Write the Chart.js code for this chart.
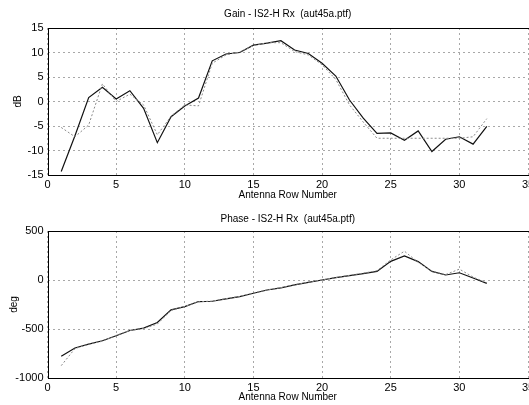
<!DOCTYPE html>
<html>
<head>
<meta charset="utf-8">
<script src="https://cdn.jsdelivr.net/npm/chart.js@4.4.1/dist/chart.umd.min.js"></script>
<style>
  html, body { margin: 0; padding: 0; background: #fff; overflow: hidden; width: 529px; height: 405px; }
  .box { position: absolute; left: 0; width: 545px; }
  #gainBox { top: 0; height: 205px; }
  #phaseBox { top: 200px; height: 207px; }
</style>
</head>
<body>
<div class="box" id="gainBox"><canvas id="gainChart"></canvas></div>
<div class="box" id="phaseBox"><canvas id="phaseChart"></canvas></div>
<script>
// data
const rows = [1, 2, 3, 4, 5, 6, 7, 8, 9, 10, 11, 12, 13, 14, 15, 16,
              17, 18, 19, 20, 21, 22, 23, 24, 25, 26, 27, 28, 29, 30, 31, 32];
const gainMeas = [-14.3, -7.0, 0.8, 2.9, 0.5, 2.2, -1.4, -8.4, -3.1, -0.9, 0.7, 8.3, 9.7, 10.0, 11.5, 11.9,
                  12.4, 10.5, 9.8, 7.8, 5.2, 0.3, -3.4, -6.5, -6.4, -7.9, -6.0, -10.2, -7.7, -7.2, -8.7, -5.1];
const gainRef = [-5.3, -7.2, -4.8, 3.6, 0.0, 1.5, -0.7, -6.8, -3.0, -0.7, -0.9, 7.8, 9.5, 10.1, 11.4, 12.0,
                 12.0, 10.2, 9.5, 7.5, 4.5, -0.7, -4.2, -7.5, -7.5, -7.5, -7.5, -7.5, -7.5, -7.5, -7.2, -3.5];
const phaseMeas = [-779, -694, -654, -620, -569, -515, -491, -433, -305, -271, -220, -217, -193, -169, -135, -102,
                   -80, -50, -25, 0, 25, 45, 65, 88, 190, 245, 188, 88, 51, 74, 20, -34];
const phaseRef = [-874, -700, -655, -625, -565, -515, -495, -450, -310, -270, -222, -215, -190, -168, -132, -100,
                  -78, -48, -22, 2, 25, 48, 70, 95, 205, 294, 180, 90, 55, 111, 30, -30];
const xTicks = [0, 5, 10, 15, 20, 25, 30, 35];
const gainTicks = [-15, -10, -5, 0, 5, 10, 15];
const phaseTicks = [-1000, -500, 0, 500];

const font = 'Liberation Sans, Arial, sans-serif';

// box around the plot area, like matlab
const frame = {
    id: 'frame',
    afterDatasetsDraw(chart) {
        const a = chart.chartArea;
        const ctx = chart.ctx;
        ctx.save();
        ctx.strokeStyle = '#000';
        ctx.lineWidth = 1;
        ctx.strokeRect(Math.round(a.left) + 0.5, Math.round(a.top) + 0.5,
                       Math.round(a.right - a.left), Math.round(a.bottom - a.top));
        ctx.restore();
    }
};

function pts(ys) {
    return rows.map((r, i) => ({ x: r, y: ys[i] }));
}

function makePlot(id, title, yLabel, meas, ref, yTicks, opt) {
    new Chart(document.getElementById(id), {
        type: 'scatter',
        data: {
            datasets: [
                { data: pts(ref), showLine: true, borderColor: '#8a8a8a', borderWidth: 1,
                  borderDash: [2, 2], pointRadius: 0, tension: 0 },
                { data: pts(meas), showLine: true, borderColor: '#111', borderWidth: 1.2,
                  pointRadius: 0, tension: 0 }
            ]
        },
        options: {
            animation: false,
            responsive: true,
            maintainAspectRatio: false,
            layout: { padding: { left: opt.padLeft, right: 17, top: 0, bottom: 0 } },
            scales: {
                x: {
                    type: 'linear',
                    min: xTicks[0], max: xTicks[xTicks.length - 1],
                    afterBuildTicks: s => { s.ticks = xTicks.map(v => ({ value: v })); },
                    afterFit: s => { s.height = opt.xHeight; s.paddingLeft = 0; s.paddingRight = 0; },
                    grid: { color: '#a8a8a8', drawTicks: false, lineWidth: 1 },
                    border: { display: false, dash: [2, 3] },
                    ticks: { color: '#000', padding: 3, font: { family: font, size: 11 },
                             callback: v => String(v) },
                    title: { display: true, text: 'Antenna Row Number', color: '#000',
                             font: { family: font, size: 10 }, padding: { top: 2, bottom: 4 } }
                },
                y: {
                    min: yTicks[0], max: yTicks[yTicks.length - 1],
                    afterBuildTicks: s => { s.ticks = yTicks.map(v => ({ value: v })); },
                    afterFit: s => { s.width = 47.5 - opt.padLeft; s.paddingTop = 0; s.paddingBottom = 0; },
                    grid: { color: '#a8a8a8', drawTicks: false, lineWidth: 1 },
                    border: { display: false, dash: [2, 3] },
                    ticks: { color: '#000', padding: 4, font: { family: font, size: 11 },
                             callback: v => String(v) },
                    title: { display: true, text: yLabel, color: '#000',
                             font: { family: font, size: 10 }, padding: { top: 4, bottom: 4 } }
                }
            },
            plugins: {
                legend: { display: false },
                tooltip: { enabled: false },
                title: { display: true, text: title, color: '#000', fullSize: false,
                         font: { family: font, size: 10, weight: 'normal' },
                         padding: { top: opt.titleTop, bottom: opt.titleBottom } }
            }
        },
        plugins: [frame]
    });
}

makePlot('gainChart', 'Gain - IS2-H Rx  (aut45a.ptf)', 'dB', gainMeas, gainRef, gainTicks,
         { padLeft: 8, xHeight: 30, titleTop: 8, titleBottom: 8 });
makePlot('phaseChart', 'Phase - IS2-H Rx  (aut45a.ptf)', 'deg', phaseMeas, phaseRef, phaseTicks,
         { padLeft: 4, xHeight: 29, titleTop: 13, titleBottom: 6 });
</script>
</body>
</html>
